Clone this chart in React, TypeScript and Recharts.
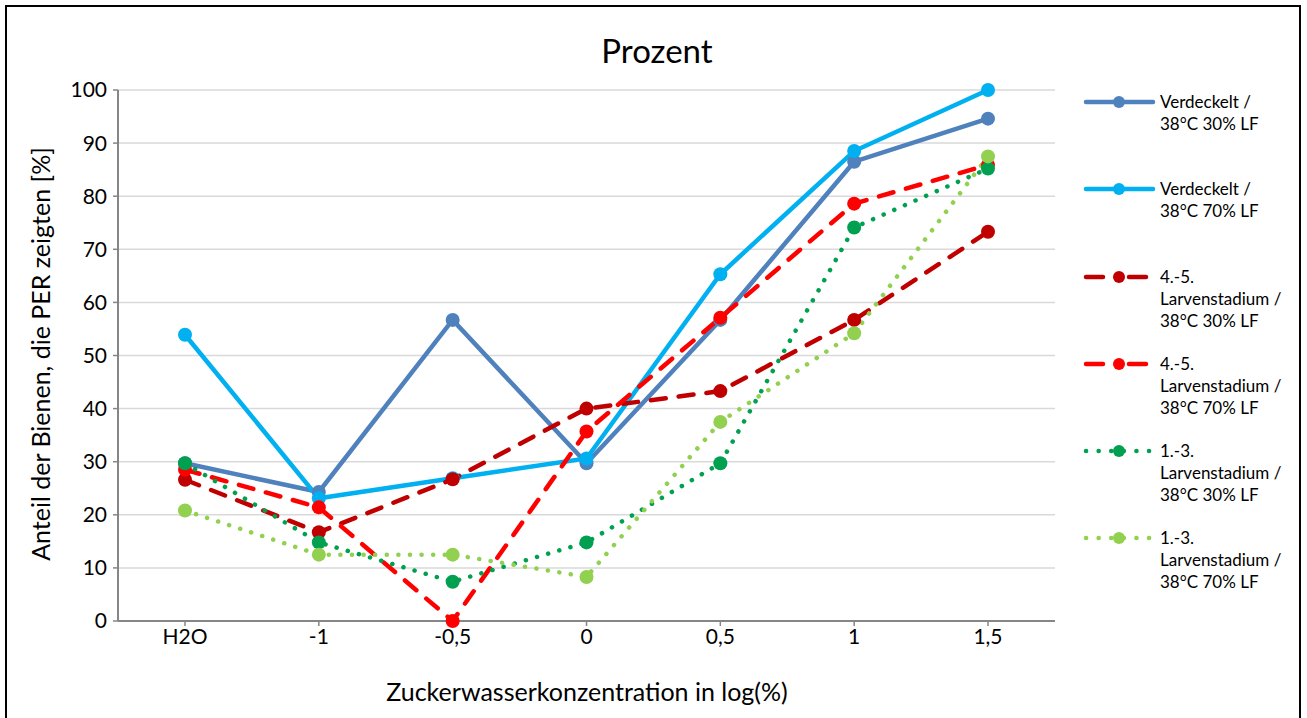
import React from "react";
import { LineChart, Line, XAxis, YAxis, CartesianGrid, Legend } from "recharts";

const categories = ["H2O", "-1", "-0,5", "0", "0,5", "1", "1,5"];
const yTicks = [0, 10, 20, 30, 40, 50, 60, 70, 80, 90, 100];

const verdeckelt30 = [29.7, 24.3, 56.7, 29.7, 56.7, 86.5, 94.6];
const verdeckelt70 = [53.9, 23.1, 26.9, 30.6, 65.3, 88.5, 100];
const larven45_30 = [26.6, 16.7, 26.7, 40.0, 43.3, 56.7, 73.3];
const larven45_70 = [28.5, 21.4, 0, 35.7, 57.1, 78.6, 85.9];
const larven13_30 = [29.7, 14.8, 7.4, 14.8, 29.7, 74.1, 85.2];
const larven13_70 = [20.8, 12.5, 12.5, 8.3, 37.5, 54.2, 87.5];

const font = "Lato, 'Open Sans', sans-serif";

const series = [
  { key: "s1", values: verdeckelt30, color: "#4F81BD", dash: undefined, label: ["Verdeckelt /", "38°C 30% LF"] },
  { key: "s2", values: verdeckelt70, color: "#00B0F0", dash: undefined, label: ["Verdeckelt /", "38°C 70% LF"] },
  { key: "s3", values: larven45_30, color: "#C00000", dash: "15 13", label: ["4.-5.", "Larvenstadium /", "38°C 30% LF"] },
  { key: "s4", values: larven45_70, color: "#FF0000", dash: "15 13", label: ["4.-5.", "Larvenstadium /", "38°C 70% LF"] },
  { key: "s5", values: larven13_30, color: "#00A050", dash: "0.1 11.5", label: ["1.-3.", "Larvenstadium /", "38°C 30% LF"] },
  { key: "s6", values: larven13_70, color: "#92D050", dash: "0.1 11.5", label: ["1.-3.", "Larvenstadium /", "38°C 70% LF"] },
];

const data = categories.map((c, i) => {
  const row: Record<string, number | string> = { cat: c };
  series.forEach((s) => (row[s.key] = s.values[i]));
  return row;
});

function LegendBox() {
  return (
    <div style={{ fontFamily: font, fontSize: 17, color: "#000" }}>
      {series.map((s) => (
        <div key={s.key} style={{ position: "relative", height: 87.3 }}>
          <svg width={76} height={20} style={{ position: "absolute", left: 0, top: 0 }}>
            <line
              x1={3}
              x2={70}
              y1={10}
              y2={10}
              stroke={s.color}
              strokeWidth={4.5}
              strokeLinecap="round"
              strokeDasharray={s.dash ? (s.dash === "15 13" ? "17 26" : "0.1 12.5") : undefined}
            />
            <circle cx={36} cy={10} r={6} fill={s.color} />
          </svg>
          <div style={{ position: "absolute", left: 77, top: -1, lineHeight: "22px", whiteSpace: "nowrap" }}>
            {s.label.map((t) => (
              <div key={t}>{t}</div>
            ))}
          </div>
        </div>
      ))}
    </div>
  );
}

export default function App() {
  return (
    <div style={{ position: "absolute", left: 0, top: 0, width: 1307, height: 718, background: "#fff", overflow: "hidden" }}>
      <div
        style={{
          position: "absolute",
          left: 5,
          top: 5,
          width: 1296,
          height: 720,
          border: "2px solid #000",
          boxSizing: "border-box",
        }}
      />
      <div
        style={{
          position: "absolute",
          left: 0,
          top: 50,
          width: 1314,
          transform: "translateY(-50%)",
          textAlign: "center",
          fontFamily: font,
          fontSize: 33,
          color: "#000",
        }}
      >
        Prozent
      </div>
      <div
        style={{
          position: "absolute",
          left: 40,
          top: 354,
          transform: "translate(-50%, -50%) rotate(-90deg)",
          whiteSpace: "nowrap",
          fontFamily: font,
          fontSize: 25,
          color: "#000",
        }}
      >
        Anteil der Bienen, die PER zeigten [%]
      </div>
      <div
        style={{
          position: "absolute",
          left: 587,
          top: 691,
          transform: "translate(-50%, -50%)",
          whiteSpace: "nowrap",
          fontFamily: font,
          fontSize: 25,
          color: "#000",
        }}
      >
        Zuckerwasserkonzentration in log(%)
      </div>
      <div style={{ position: "absolute", left: 0, top: 0 }}>
        <LineChart width={1307} height={718} data={data} margin={{ top: 90, right: 252, bottom: 67, left: 58 }}>
          <CartesianGrid horizontal vertical={false} stroke="#D9D9D9" strokeWidth={1.5} />
          <XAxis
            dataKey="cat"
            height={30}
            padding={{ left: 67, right: 67 }}
            tickLine={{ stroke: "#868686", strokeWidth: 1.5 }}
            tickSize={5}
            axisLine={{ stroke: "#868686", strokeWidth: 2 }}
            tick={{ fill: "#000", fontSize: 21, fontFamily: font, dy: 1 }}
          />
          <XAxis
            dataKey="cat"
            xAxisId="top"
            orientation="top"
            height={0}
            tick={false}
            tickLine={false}
            axisLine={{ stroke: "#A6A6A6", strokeWidth: 2 }}
          />
          <YAxis
            domain={[0, 100]}
            ticks={yTicks}
            width={60}
            interval={0}
            tickSize={5}
            tickLine={{ stroke: "#868686", strokeWidth: 1.5 }}
            axisLine={{ stroke: "#868686", strokeWidth: 2 }}
            tick={{ fill: "#000", fontSize: 21, fontFamily: font, dx: -4 }}
          />
          <YAxis
            yAxisId="right"
            orientation="right"
            domain={[0, 100]}
            width={0}
            tick={false}
            tickLine={false}
            axisLine={{ stroke: "#A6A6A6", strokeWidth: 2 }}
          />
          <Legend
            layout="horizontal"
            verticalAlign="middle"
            content={() => <LegendBox />}
            wrapperStyle={{ left: 1083, top: 92, width: 224, height: 540 }}
          />
          {series.map((s) => (
            <Line
              key={s.key}
              dataKey={s.key}
              type="linear"
              stroke={s.color}
              strokeWidth={4.5}
              strokeDasharray={s.dash}
              strokeLinecap="round"
              dot={{ r: 7, fill: s.color, stroke: s.color, strokeWidth: 0, strokeDasharray: "0" }}
              activeDot={false}
              isAnimationActive={false}
            />
          ))}
        </LineChart>
      </div>
    </div>
  );
}
